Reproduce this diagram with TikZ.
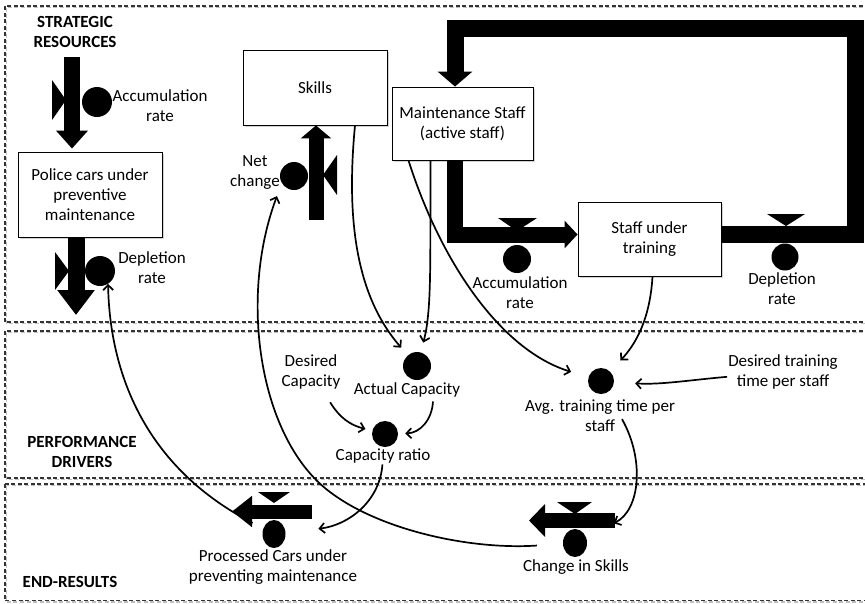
\documentclass[tikz,border=0pt]{standalone}
\usepackage{fontspec}
\setmainfont{Carlito}
\usetikzlibrary{arrows.meta,shadows,shapes.geometric}
\begin{document}
\begin{tikzpicture}[x=1pt,y=-1pt,
  every node/.style={font=\fontsize{17}{20}\selectfont, inner sep=1pt},
  lbl/.style={align=center},
  heading/.style={align=center, font=\fontsize{17}{20}\selectfont\bfseries},
  stock/.style={draw, line width=0.9pt, fill=white, align=center,
    drop shadow={shadow xshift=1.5pt, shadow yshift=-1.5pt, opacity=0.35}},
  valve/.style={circle, fill=black, inner sep=0pt},
  valveE/.style={ellipse, fill=black, inner sep=0pt},
  marker/.style={fill=black},
  flow/.style={line width=#1, line join=miter, draw=black},
  flow/.default=16pt,
  link/.style={line width=1.7pt, -{Straight Barb[length=5pt,width=10pt]}},
  panel/.style={dash pattern=on 4pt off 2.5pt, line width=1.2pt, black!80},
  panelshade/.style={dash pattern=on 4pt off 2.5pt, line width=1.4pt, black!25}
]
\useasboundingbox (0,0) rectangle (865,603);
\clip (0,0) rectangle (865,603);

% --- sector panels (soft shade under each dashed frame) ---
\draw[panelshade] (6.5,7.5) rectangle (876,323.5);
\draw[panelshade] (6.5,332.5) rectangle (876,479.5);
\draw[panelshade] (6.5,485.5) rectangle (876,602);
\draw[panel] (5,6) rectangle (875,322);
\draw[panel] (5,331) rectangle (875,478);
\draw[panel] (5,484) rectangle (875,600.5);

\node[heading] (hsr) at (75,32) {STRATEGIC\\RESOURCES};
\node[heading] (hpd) at (82,452) {PERFORMANCE\\DRIVERS};
\node[heading] (her) at (70,582) {END-RESULTS};

% --- stocks ---
\node[stock, minimum width=144pt, minimum height=85pt] (police) at (90,194.5)
  {Police cars under\\preventive\\maintenance};
\node[stock, minimum width=144pt, minimum height=75pt] (skills) at (315,87.5) {Skills};
\node[stock, minimum width=141pt, minimum height=73pt] (mstaff) at (462.5,123.5)
  {Maintenance Staff\\(active staff)};
\node[stock, minimum width=143pt, minimum height=74pt] (training) at (649.5,239)
  {Staff under\\training};

% --- flows ---
\coordinate (srcL) at (72,57);
\draw[flow=16pt, -{Triangle[length=18pt,width=31pt]}, shorten >=3pt]
  (srcL) -- (srcL |- police.north);
\coordinate (sinkL) at (76,315);
\draw[flow=17pt, -{Triangle[length=25pt,width=36pt]}] (sinkL |- police.south) -- (sinkL);
\coordinate (srcN) at (316,220);
\draw[flow=15pt, -{Triangle[length=13pt,width=30pt]}] (srcN) -- (srcN |- skills.south);
\coordinate (knee) at (455,234.5);
\draw[flow=16pt, -{Triangle[length=13pt,width=27pt]}]
  (knee |- mstaff.south) -- (knee) -- (knee -| training.west);
\draw[flow=17pt, -{Triangle[length=15pt,width=34pt]}]
  (knee -| training.east) -- (855,234.5) -- (855,28) -- (455,28) -- (knee |- mstaff.north);
\coordinate (procR) at (312,511.5);
\coordinate (procL) at (232,511.5);
\draw[flow=14pt, -{Triangle[length=20pt,width=30pt]}] (procR) -- (procL);
\coordinate (chsR) at (615,520.5);
\coordinate (chsL) at (529,520.5);
\draw[flow=15pt, -{Triangle[length=16pt,width=32pt]}] (chsR) -- (chsL);

% --- valves ---
\fill[marker] (52,80) -- (52,120) -- (66,100) -- cycle;
\node[valve, minimum size=30pt] (accL) at (97,102) {};
\fill[marker] (55,252) -- (55,290) -- (69,271) -- cycle;
\node[valve, minimum size=30pt] (depL) at (100,271) {};
\fill[marker] (337,155) -- (337,195) -- (323,175) -- cycle;
\node[valve, minimum size=28pt] (netc) at (294,176) {};
\fill[marker] (498,218) -- (537,218) -- (517,231) -- cycle;
\node[valve, minimum size=28pt] (accS) at (517,259) {};
\fill[marker] (767,214) -- (805,214) -- (786,226) -- cycle;
\node[valve, minimum size=27pt] (depS) at (785,257) {};
\fill[marker] (258,492) -- (290,492) -- (274,503) -- cycle;
\node[valveE, minimum width=23pt, minimum height=28pt] (proc) at (274,534) {};
\fill[marker] (557,502) -- (592,502) -- (575,514) -- cycle;
\node[valveE, minimum width=24pt, minimum height=28pt] (chs) at (575,543) {};

% --- auxiliaries ---
\node[valve, minimum size=28pt] (actcap) at (417,366) {};
\node[valve, minimum size=26pt] (capratio) at (385,434) {};
\node[valve, minimum size=26pt] (avgtt) at (601,381) {};

% --- labels ---
\node[lbl] (accLlbl) at (160,106) {Accumulation\\rate};
\node[lbl] (depLlbl) at (152,268) {Depletion\\rate};
\node[lbl] (netlbl) at (255,173) {Net\\change};
\node[lbl] (accSlbl) at (520,293) {Accumulation\\rate};
\node[lbl] (depSlbl) at (782,289) {Depletion\\rate};
\node[lbl] (proclbl) at (273,567) {Processed Cars under\\preventing maintenance};
\node[lbl] (chslbl) at (576,567) {Change in Skills};
\node[lbl] (actlbl) at (407,390) {Actual Capacity};
\node[lbl] (dclbl) at (311,372) {Desired\\Capacity};
\node[lbl] (crlbl) at (383,456) {Capacity ratio};
\node[lbl] (avglbl) at (600,416) {Avg. training time per\\staff};
\node[lbl] (dtlbl) at (783,372) {Desired training\\time per staff};

% --- information links ---
\draw[link, shorten <=12pt] (proc) .. controls (150,470) and (110,380) .. (depL.-58);
\draw[link, shorten <=26pt] (chs) .. controls (470,550) and (380,530) .. (330,492)
  .. controls (260,440) and (238,300) .. ([xshift=-4pt,yshift=-5pt]netlbl.south east);
\draw[link, shorten >=10pt] ([xshift=40pt]skills.south) .. controls (345,230) and (360,300) .. (actcap);
\draw[link, shorten >=10pt] ([xshift=-32pt]mstaff.south) .. controls (430,260) and (432,310) .. (actcap);
\draw[link, shorten >=18pt] ([xshift=-54pt]mstaff.south) .. controls (440,260) and (500,350) .. (avgtt);
\draw[link, shorten >=15pt] ([xshift=3pt]training.south) .. controls (650,320) and (635,345) .. (avgtt);
\draw[link, shorten >=21pt] (dtlbl) .. controls (690,380) and (660,385) .. (avgtt);
\draw[link, shorten <=14pt, shorten >=7pt] (dclbl) .. controls (340,418) and (350,425) .. (capratio);
\draw[link, shorten >=7pt] ([xshift=26pt,yshift=-3pt]actlbl.south) .. controls (432,420) and (420,433) .. (capratio);
\draw[link, shorten >=33pt] (crlbl) .. controls (380,500) and (350,525) .. (proc);
\draw[link, shorten >=31pt] ([xshift=22pt,yshift=14pt]avglbl.south) .. controls (645,460) and (640,510) .. (chs);
\end{tikzpicture}
\end{document}
